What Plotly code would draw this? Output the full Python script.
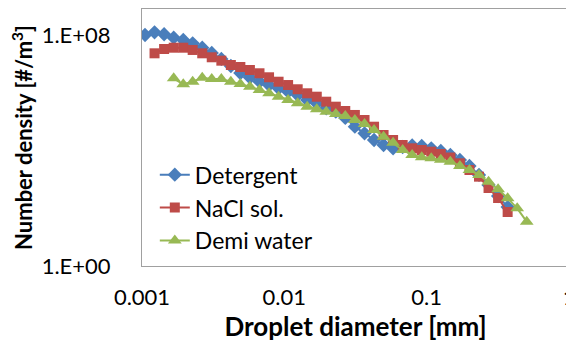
import plotly.graph_objects as go

diameter_mm = [0.00105, 0.001225, 0.00143, 0.00167, 0.00195, 0.00227, 0.00265, 0.00309,
               0.00361, 0.00421, 0.00491, 0.00573, 0.00669, 0.00781, 0.00911, 0.01063,
               0.01241, 0.01448, 0.0169, 0.0197, 0.0230, 0.0268, 0.0313, 0.0366,
               0.0427, 0.0498, 0.0581, 0.0678, 0.0791, 0.0923, 0.1077, 0.1257,
               0.1467, 0.1712, 0.1998, 0.2332, 0.2721, 0.3176, 0.3706, 0.4325, 0.5047]

detergent = [1.00e8, 1.24e8, 1.06e8, 8.06e7, 6.71e7, 5.16e7, 3.63e7, 2.38e7, 1.48e7,
             8.44e6, 4.83e6, 3.37e6, 2.41e6, 1.85e6, 1.43e6, 1.09e6, 8.35e5, 5.61e5,
             4.31e5, 2.89e5, 2.21e5, 1.34e5, 6.67e4, 3.94e4, 2.31e4, 1.55e4, 1.19e4,
             1.32e4, 1.49e4, 1.43e4, 1.19e4, 9.61e3, 6.98e3, 4.69e3, 2.90e3, 1.42e3,
             638, 266, 110]

nacl = [2.32e7, 3.27e7, 3.63e7, 3.63e7, 3.03e7, 2.32e7, 1.69e7, 1.29e7, 9.14e6,
        7.80e6, 6.14e6, 4.72e6, 3.43e6, 2.41e6, 1.85e6, 1.32e6, 9.57e5, 7.30e5,
        4.90e5, 3.29e5, 2.33e5, 1.70e5, 1.14e5, 6.67e4, 3.44e4, 2.31e4, 1.55e4,
        1.19e4, 1.04e4, 9.09e3, 7.57e3, 5.72e3, 3.60e3, 2.11e3, 1.24e3, 503, 226, 74]

demi_water = [3.16e6, 1.96e6, 2.41e6, 3.32e6, 2.99e6, 2.99e6, 2.41e6, 2.01e6, 1.62e6,
              1.24e6, 9.57e5, 7.30e5, 5.61e5, 4.31e5, 3.29e5, 2.67e5, 2.21e5, 1.84e5,
              1.57e5, 1.14e5, 8.28e4, 5.13e4, 3.01e4, 1.86e4, 1.04e4, 6.98e3, 5.82e3,
              5.37e3, 4.80e3, 4.09e3, 2.90e3, 2.11e3, 1.42e3, 830, 453, 221, 99.6, 34.2]

x_ticks = [0.001, 0.01, 0.1, 1]
x_ticktext = ["0.001", "0.01", "0.1", "1"]
y_ticks = [1, 1e8]
y_ticktext = ["1.E+00", "1.E+08"]

FONT = "Lato"

fig = go.Figure()
fig.add_trace(go.Scatter(x=diameter_mm[0:39], y=detergent, name="Detergent",
                         mode="lines+markers",
                         line=dict(color="#4A7EBB", width=2),
                         marker=dict(symbol="diamond", size=11, color="#4A7EBB")))
fig.add_trace(go.Scatter(x=diameter_mm[1:39], y=nacl, name="NaCl sol.",
                         mode="lines+markers",
                         line=dict(color="#BE4B48", width=2),
                         marker=dict(symbol="square", size=10, color="#BE4B48")))
fig.add_trace(go.Scatter(x=diameter_mm[3:41], y=demi_water, name="Demi water",
                         mode="lines+markers",
                         line=dict(color="#98B954", width=2),
                         marker=dict(symbol="triangle-up", size=12, color="#98B954")))

# The page body has an 8px default margin; the figure is sized to fit the window with it.
fig.update_layout(
    width=566, height=334,
    margin=dict(l=134, r=5, t=1, b=76),
    paper_bgcolor="white", plot_bgcolor="white",
    font=dict(family=FONT, size=22, color="black"),
    showlegend=True,
    legend=dict(x=0.030, y=0.439, xanchor="left", yanchor="top",
                font=dict(family=FONT, size=23, color="black"),
                bgcolor="rgba(0,0,0,0)", itemwidth=30),
    xaxis=dict(type="log", range=[-3, 0], tickvals=x_ticks, ticktext=x_ticktext,
               showgrid=False, zeroline=False, showline=True, linecolor="#A0A0A0",
               linewidth=1, mirror=True, ticks="", ticklabelstandoff=12,
               ticklabeloverflow="allow",
               tickfont=dict(family=FONT, size=22),
               title=dict(text="<b>Droplet diameter [mm]</b>", standoff=5,
                          font=dict(family=FONT, size=26)),
               automargin=False),
    yaxis=dict(type="log", range=[0, 8.9], tickvals=y_ticks, ticktext=y_ticktext,
               showgrid=False, zeroline=False, showline=True, linecolor="#A0A0A0",
               linewidth=1, mirror=True, ticks="", ticklabelstandoff=26,
               tickfont=dict(family=FONT, size=22),
               title=dict(text="<b>Number density [#/m<sup>3</sup>]</b>", standoff=4,
                          font=dict(family=FONT, size=22)),
               automargin=False),
)

fig.write_html("out.html")
